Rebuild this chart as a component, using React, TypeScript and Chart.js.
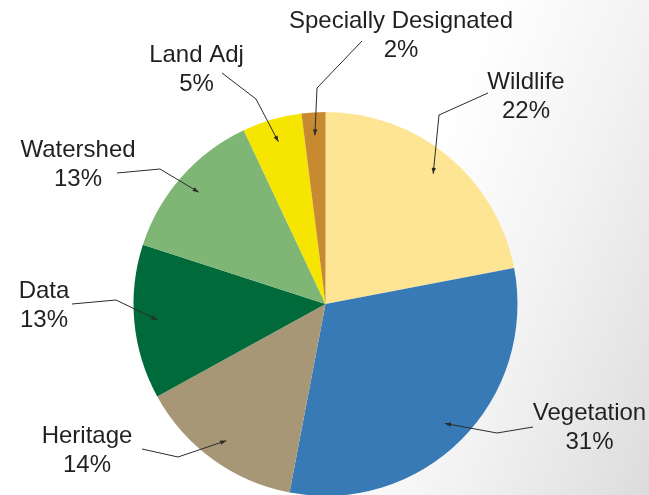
import React, { useEffect, useRef } from "react";
import { Chart, registerables } from "chart.js";

Chart.register(...registerables);

const categories = [
  "Wildlife",
  "Vegetation",
  "Heritage",
  "Data",
  "Watershed",
  "Land Adj",
  "Specially Designated",
];
const shares = [22, 31, 14, 13, 13, 5, 2];
const percentLabels = ["22%", "31%", "14%", "13%", "13%", "5%", "2%"];
const colors = ["#FEE594", "#387AB6", "#A89776", "#006A3B", "#7FB675", "#F5E500", "#C78A30"];

// callout layout (label centre x, first-line baseline y, leader start, leader bend)
const labelX = [526, 589.5, 87, 44, 78, 196.5, 401];
const labelY = [89, 420, 443, 298, 157, 62, 28];
const leaderStart: number[][] = [
  [488, 93],
  [533, 427],
  [142, 449],
  [72, 304],
  [117, 173],
  [222, 73],
  [362, 41],
];
const leaderBend: number[][] = [
  [439, 115],
  [497, 433],
  [178, 457],
  [116, 300],
  [160, 169],
  [256, 99],
  [317, 88],
];

const calloutPlugin = {
  id: "calloutLabels",
  afterDatasetsDraw(chart: any) {
    const ctx = chart.ctx as CanvasRenderingContext2D;
    const meta = chart.getDatasetMeta(0);
    ctx.save();
    meta.data.forEach((arc: any, i: number) => {
      const p = arc.getProps(["x", "y", "startAngle", "endAngle", "outerRadius"], true);
      const mid = (p.startAngle + p.endAngle) / 2;
      const tx = p.x + Math.cos(mid) * p.outerRadius * 0.88;
      const ty = p.y + Math.sin(mid) * p.outerRadius * 0.88;
      const [sx, sy] = leaderStart[i];
      const [bx, by] = leaderBend[i];
      ctx.strokeStyle = "#2b2b2b";
      ctx.fillStyle = "#2b2b2b";
      ctx.lineWidth = 1;
      ctx.beginPath();
      ctx.moveTo(sx, sy);
      ctx.lineTo(bx, by);
      ctx.lineTo(tx, ty);
      ctx.stroke();
      const ang = Math.atan2(ty - by, tx - bx);
      const L = 6;
      const W = 2.2;
      const c = Math.cos(ang);
      const s = Math.sin(ang);
      ctx.beginPath();
      ctx.moveTo(tx, ty);
      ctx.lineTo(tx - L * c + W * s, ty - L * s - W * c);
      ctx.lineTo(tx - L * c - W * s, ty - L * s + W * c);
      ctx.closePath();
      ctx.fill();

      ctx.fillStyle = "#231F20";
      ctx.font = '24px "Liberation Sans", Arial, sans-serif';
      ctx.textAlign = "center";
      ctx.textBaseline = "alphabetic";
      ctx.fillText(categories[i], labelX[i], labelY[i]);
      ctx.fillText(percentLabels[i], labelX[i], labelY[i] + 29);
    });
    ctx.restore();
  },
};

export default function App() {
  const canvasRef = useRef<HTMLCanvasElement | null>(null);

  useEffect(() => {
    if (!canvasRef.current) return;
    const chart = new Chart(canvasRef.current, {
      type: "pie",
      data: {
        labels: categories,
        datasets: [
          {
            data: shares,
            backgroundColor: colors,
            borderWidth: 0,
            hoverOffset: 0,
            offset: 0,
          },
        ],
      },
      options: {
        animation: false,
        responsive: false,
        events: [],
        layout: { padding: { left: 133.5, right: 131.5, top: 112, bottom: 24 } },
        plugins: {
          legend: { display: false },
          tooltip: { enabled: false },
        },
      },
      plugins: [calloutPlugin],
    });
    return () => chart.destroy();
  }, []);

  return (
    <div
      style={{
        position: "fixed",
        left: 0,
        top: 0,
        width: 649,
        height: 495,
        overflow: "hidden",
        background:
          "linear-gradient(112deg, #ffffff 0%, #ffffff 58%, #f3f3f3 76%, #e6e6e6 90%, #dcdcdc 100%)",
      }}
    >
      <canvas ref={canvasRef} width={649} height={520} style={{ display: "block" }} />
    </div>
  );
}
